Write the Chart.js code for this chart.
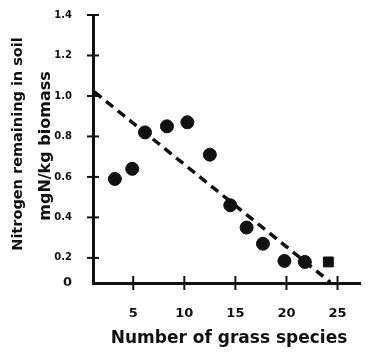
<!DOCTYPE html>
<html>
<head>
<meta charset="utf-8">
<style>
  html, body { margin: 0; padding: 0; background: #fff; }
  #wrap { width: 368px; height: 355px; }
</style>
<script src="https://cdn.jsdelivr.net/npm/chart.js"></script>
</head>
<body>
<div id="wrap"><canvas id="grafico"></canvas></div>
<script>
// species counts and nitrogen left in the soil for each plot group
const speciesX = [3.2, 4.9, 6.15, 8.3, 10.3, 12.5, 14.5, 16.1, 17.7, 19.8, 21.8];
const nitrogenY = [0.59, 0.64, 0.82, 0.85, 0.87, 0.71, 0.46, 0.35, 0.27, 0.185, 0.18];
const squareX = [24.1];
const squareY = [0.18];
// dashed trend, start and end
const trendX = [1.2, 24.3];
const trendY = [1.02, 0.08];

const xTicks = [5, 10, 15, 20, 25];
const yTicks = [0.2, 0.4, 0.6, 0.8, 1.0, 1.2, 1.4];
const yMin = 0.076;

const ink = '#111';
const fam = '"DejaVu Sans", "Liberation Sans", sans-serif';

const toPoints = (xs, ys) => xs.map((x, i) => ({ x, y: ys[i] }));

// axis titles and the little crosses on both axes
const extras = {
  id: 'extras',
  afterDraw(chart) {
    const { ctx, scales } = chart;
    const xs = scales.x, ys = scales.y;
    ctx.save();
    ctx.strokeStyle = ink;
    ctx.lineWidth = 2;
    yTicks.forEach(v => {
      const py = ys.getPixelForValue(v);
      ctx.beginPath();
      ctx.moveTo(xs.left - 6, py);
      ctx.lineTo(xs.left + 6, py);
      ctx.stroke();
    });
    xTicks.forEach(v => {
      const px = xs.getPixelForValue(v);
      ctx.beginPath();
      ctx.moveTo(px, ys.bottom - 7);
      ctx.lineTo(px, ys.bottom + 7);
      ctx.stroke();
    });

    ctx.fillStyle = ink;
    ctx.textAlign = 'center';
    ctx.textBaseline = 'middle';
    ctx.font = 'bold 17px ' + fam;
    ctx.fillText('Number of grass species', 229, 339);

    ctx.save();
    ctx.translate(18, 144);
    ctx.rotate(-Math.PI / 2);
    ctx.font = 'bold 14.5px ' + fam;
    ctx.fillText('Nitrogen remaining in soil', 0, 0);
    ctx.restore();
    ctx.save();
    ctx.translate(46, 146);
    ctx.rotate(-Math.PI / 2);
    ctx.font = 'bold 16px ' + fam;
    ctx.fillText('mgN/kg biomass', 0, 0);
    ctx.restore();
    ctx.restore();
  }
};

new Chart(document.getElementById('grafico'), {
  type: 'scatter',
  data: {
    datasets: [
      {
        type: 'line',
        data: toPoints(trendX, trendY),
        borderColor: ink,
        borderWidth: 3.5,
        borderDash: [9, 6],
        pointRadius: 0,
        fill: false,
        clip: false
      },
      {
        data: toPoints(speciesX, nitrogenY),
        backgroundColor: ink,
        borderColor: ink,
        pointRadius: 6.5,
        pointHoverRadius: 6.5
      },
      {
        data: toPoints(squareX, squareY),
        pointStyle: 'rect',
        backgroundColor: ink,
        borderColor: ink,
        pointRadius: 7,
        pointHoverRadius: 7
      }
    ]
  },
  options: {
    responsive: true,
    maintainAspectRatio: false,
    animation: false,
    events: [],
    layout: { padding: { left: 0, top: 15, right: -1, bottom: 0 } },
    plugins: { legend: { display: false }, tooltip: { enabled: false } },
    scales: {
      x: {
        type: 'linear',
        min: 1.06,
        max: 27.2,
        grid: { display: false },
        border: { display: true, color: ink, width: 3 },
        afterFit: s => { s.height = 72; s.paddingLeft = 0; s.paddingRight = 0; },
        afterBuildTicks: s => { s.ticks = xTicks.map(v => ({ value: v })); },
        ticks: {
          padding: 15,
          color: ink,
          font: { family: fam, size: 13, weight: 'bold' },
          callback: v => String(v)
        }
      },
      y: {
        type: 'linear',
        min: yMin,
        max: 1.4,
        grid: { display: false },
        border: { display: true, color: ink, width: 3 },
        afterFit: s => { s.width = 93; s.paddingTop = 0; s.paddingBottom = 0; },
        afterBuildTicks: s => { s.ticks = [yMin, ...yTicks].map(v => ({ value: v })); },
        ticks: {
          padding: 13,
          color: ink,
          font: c => ({ family: fam, weight: 'bold', size: c.tick && c.tick.value === yMin ? 13 : 10 }),
          callback: v => (v === yMin ? '0' : v.toFixed(1))
        }
      }
    }
  },
  plugins: [extras]
});
</script>
</body>
</html>
